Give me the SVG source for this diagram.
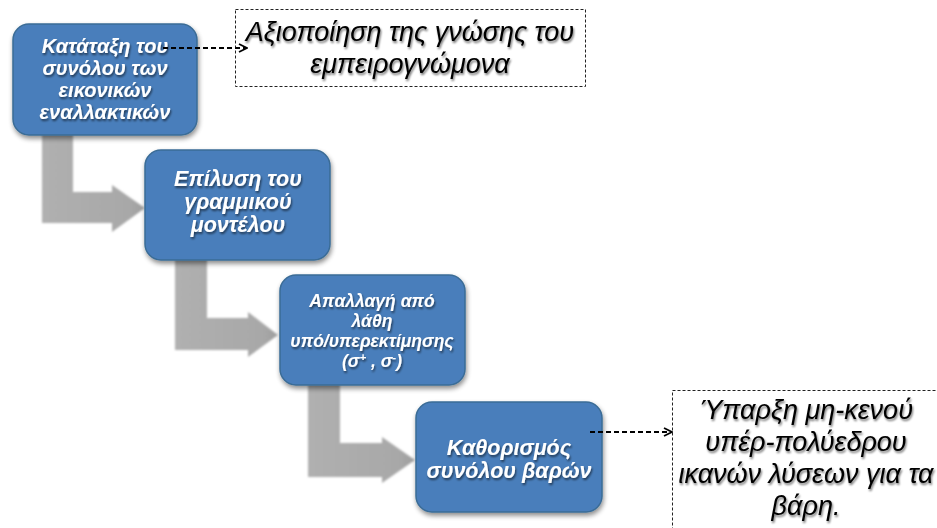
<svg xmlns="http://www.w3.org/2000/svg" width="937" height="528" viewBox="0 0 937 528">
  <defs>
    <filter id="boxShadow" x="-10%" y="-10%" width="125%" height="130%">
      <feGaussianBlur in="SourceAlpha" stdDeviation="2.5"/>
      <feOffset dx="1" dy="3" result="b"/>
      <feComponentTransfer><feFuncA type="linear" slope="0.45"/></feComponentTransfer>
      <feMerge><feMergeNode/><feMergeNode in="SourceGraphic"/></feMerge>
    </filter>
    <filter id="textShadow" x="-10%" y="-20%" width="120%" height="150%">
      <feGaussianBlur in="SourceAlpha" stdDeviation="1"/>
      <feOffset dx="1" dy="1.5"/>
      <feComponentTransfer><feFuncA type="linear" slope="0.55"/></feComponentTransfer>
      <feMerge><feMergeNode/><feMergeNode in="SourceGraphic"/></feMerge>
    </filter>
    <filter id="softArrow" x="-10%" y="-10%" width="120%" height="120%">
      <feGaussianBlur stdDeviation="1"/>
    </filter>
    <linearGradient id="arrowFill" x1="0" y1="0" x2="1" y2="0">
      <stop offset="0" stop-color="#b0b0b0"/>
      <stop offset="0.85" stop-color="#a8a8a8"/>
      <stop offset="1" stop-color="#9e9e9e"/>
    </linearGradient>
    <marker id="openArrow" viewBox="0 0 10 10" refX="9" refY="5" markerWidth="10" markerHeight="10" markerUnits="userSpaceOnUse" orient="auto">
      <path d="M1,1 L9,5 L1,9" fill="none" stroke="#000" stroke-width="1.8"/>
    </marker>
    <style>
      .box { fill: #4a7ebb; stroke: #3a6c96; stroke-width: 1.5; }
      .btxt { font-family: "Liberation Sans", Arial, sans-serif; font-weight: bold; font-style: italic; fill: #ffffff; text-anchor: middle; }
      .note { fill: #ffffff; stroke: #222; stroke-width: 1; stroke-dasharray: 3 2; }
      .ntxt { font-family: "Liberation Sans", Arial, sans-serif; font-style: italic; fill: #000; text-anchor: middle; font-size: 27px; }
      .flow { fill: url(#arrowFill); }
      .dash { fill: none; stroke: #000; stroke-width: 1.8; stroke-dasharray: 5 3; }
    </style>
  </defs>

  <!-- bent flow arrows between steps -->
  <g id="flow-arrows" filter="url(#softArrow)">
    <path class="flow" d="M42,132 H73 V192 H112 V185 L145,208 L112,232 V223 H42 Z"/>
    <path class="flow" d="M175,256 H207 V318 H248 V312 L278,335 L248,357 V350 H175 Z"/>
    <path class="flow" d="M308,384 H340 V443 H382 V437 L415,460 L382,483 V477 H308 Z"/>
  </g>

  <!-- note boxes -->
  <g id="note-expert">
    <rect class="note" x="235.5" y="9.5" width="350" height="77"/>
    <g filter="url(#textShadow)">
      <text class="ntxt" x="410" y="41">Αξιοποίηση της γνώσης του</text>
      <text class="ntxt" x="410" y="73">εμπειρογνώμονα</text>
    </g>
  </g>
  <g id="note-polyhedron">
    <rect class="note" x="672.5" y="390.5" width="280" height="150"/>
    <g filter="url(#textShadow)">
      <text class="ntxt" x="806" y="419">Ύπαρξη μη-κενού</text>
      <text class="ntxt" x="806" y="451">υπέρ-πολύεδρου</text>
      <text class="ntxt" x="806" y="483">ικανών λύσεων για τα</text>
      <text class="ntxt" x="806" y="515">βάρη.</text>
    </g>
  </g>

  <!-- process steps -->
  <g id="step-ranking">
    <rect class="box" x="13" y="24" width="184" height="111" rx="16" filter="url(#boxShadow)"/>
    <g class="btxt" font-size="20" filter="url(#textShadow)">
      <text x="105" y="53">Κατάταξη του</text>
      <text x="105" y="75">συνόλου των</text>
      <text x="105" y="97">εικονικών</text>
      <text x="105" y="119">εναλλακτικών</text>
    </g>
  </g>
  <g id="step-solve">
    <rect class="box" x="145" y="150" width="185" height="110" rx="16" filter="url(#boxShadow)"/>
    <g class="btxt" font-size="21.5" filter="url(#textShadow)">
      <text x="238" y="186">Επίλυση του</text>
      <text x="238" y="209">γραμμικού</text>
      <text x="238" y="232">μοντέλου</text>
    </g>
  </g>
  <g id="step-errors">
    <rect class="box" x="280" y="275" width="185" height="110" rx="16" filter="url(#boxShadow)"/>
    <g class="btxt" font-size="17.5" filter="url(#textShadow)">
      <text x="372" y="307">Απαλλαγή από</text>
      <text x="372" y="327">λάθη</text>
      <text x="372" y="347">υπό/υπερεκτίμησης</text>
      <text x="372" y="367">(σ<tspan font-size="11.5" dy="-6">+</tspan><tspan dy="6"> , σ</tspan><tspan font-size="11.5" dy="-6">-</tspan><tspan dy="6">)</tspan></text>
    </g>
  </g>
  <g id="step-weights">
    <rect class="box" x="416" y="402" width="186" height="110" rx="16" filter="url(#boxShadow)"/>
    <g class="btxt" font-size="21.5" filter="url(#textShadow)">
      <text x="509" y="455">Καθορισμός</text>
      <text x="509" y="478">συνόλου βαρών</text>
    </g>
  </g>

  <!-- dashed links to notes -->
  <g id="connectors">
    <line class="dash" x1="163" y1="48" x2="247" y2="48" marker-end="url(#openArrow)"/>
    <line class="dash" x1="590" y1="432" x2="672" y2="432" marker-end="url(#openArrow)"/>
  </g>
</svg>
